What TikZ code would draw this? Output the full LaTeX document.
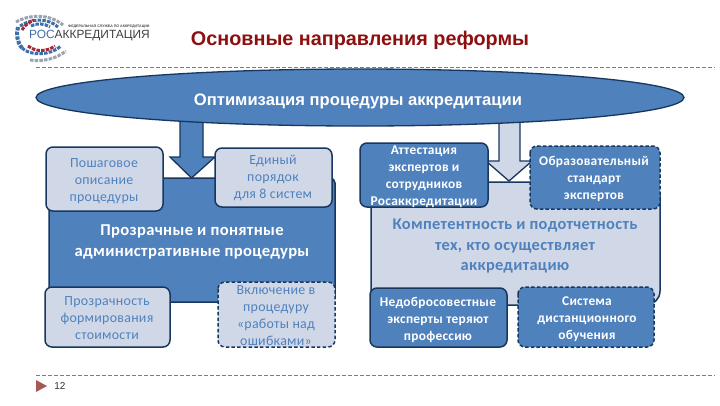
\documentclass[tikz,border=0pt]{standalone}
\usepackage{fontspec}
\usetikzlibrary{shapes.geometric}
\setmainfont{Liberation Sans}
\newfontfamily\carl[LetterSpace=2]{Carlito}
\definecolor{mainblue}{HTML}{4F81BD}
\definecolor{lightfill}{HTML}{D0D8E8}
\definecolor{edgeblue}{HTML}{17375E}
\definecolor{titlered}{HTML}{8E0F0F}
\definecolor{rulered}{HTML}{B5635F}
\definecolor{ringgray}{HTML}{9AA3B2}
\definecolor{ringblue}{HTML}{3F6FA8}
\definecolor{ringred}{HTML}{A8283A}
\tikzset{
  x=1pt,y=-1pt,
  box/.style={rounded corners=7pt,line width=1.5pt,draw=edgeblue},
  lightbox/.style={box,fill=lightfill},
  darkbox/.style={box,fill=mainblue},
  dashbox/.style={dash pattern=on 3.5pt off 2.2pt},
  lighttxt/.style={font=\carl\fontsize{13.9}{17}\selectfont,text=mainblue,align=center,anchor=center,inner sep=0pt},
  darktxt/.style={font=\carl\bfseries\fontsize{13.4}{17}\selectfont,text=white,align=center,anchor=center,inner sep=0pt},
  rulerline/.style={draw=rulered,line width=0.6pt,dash pattern=on 4pt off 2pt},
  blockarrow/.style={line width=1.3pt,draw=edgeblue,line join=miter},
  ring/.style={line width=4pt,dash pattern=on 3.5pt off 1.2pt},
}
\begin{document}
\begin{tikzpicture}
\useasboundingbox[fill=white] (0,0) rectangle (720,405);
% rules
\coordinate (r1a) at (36,67); \coordinate (r1b) at (715,67);
\coordinate (r2a) at (36,375); \coordinate (r2b) at (715,375);
\draw[rulerline] (r1a) -- (r1b);
\draw[rulerline] (r2a) -- (r2b);
\fill[rulered!90!black] (36,380) -- (47,386) -- (36,392) -- cycle;
\node[font=\fontsize{10}{12}\selectfont,text=black!80,inner sep=0pt] (page) at (60,386) {12};
% logo
\draw[ring,ringgray,line width=3pt] (16,22) .. controls (30,14) and (50,14) .. (63,25);
\draw[ring,ringblue,line width=3pt] (20,26) .. controls (32,18) and (48,18) .. (58,27);
\draw[ring,ringblue,line width=3pt] (31,26) .. controls (36,23) and (44,23) .. (50,27);
\draw[ring,ringred,line width=3pt] (22,30) .. controls (24,26) and (28,23) .. (34,20);
\draw[ring,ringblue,line width=4pt] (18,27) .. controls (16,34) and (17,42) .. (22,48);
\draw[ring,ringred,line width=3pt] (28,46) .. controls (36,52) and (46,52) .. (55,46);
\draw[ring,ringblue,line width=3pt] (22,48) .. controls (30,56) and (50,56) .. (61,46);
\draw[ring,ringgray,line width=3pt] (30,60) .. controls (42,62) and (56,59) .. (66,51);
\fill[white] (29,30) rectangle (68,41);
\node[anchor=west,inner sep=0pt,font=\fontsize{11.9}{14}\selectfont,text=black!75] (logotxt) at (29,36) {{\color{ringblue}РОС}АККРЕДИТАЦИЯ};
\node[anchor=west,inner sep=0pt,font=\bfseries\fontsize{3.6}{4}\selectfont,text=black!70] (logosub) at (68,27) {ФЕДЕРАЛЬНАЯ СЛУЖБА ПО АККРЕДИТАЦИИ};
% title
\node[font=\bfseries\fontsize{19.8}{24}\selectfont,text=titlered,inner sep=0pt] (title) at (360,40) {Основные направления реформы};
% panels
\draw[box,fill=mainblue,rounded corners=5pt] (49,178) rectangle (335,302);
\draw[box,fill=lightfill,rounded corners=14pt] (371,182) rectangle (660,305);
% block arrows
\draw[blockarrow,fill=mainblue] (180,120) -- (180,157) -- (170,157) -- (191.5,178) -- (215,157) -- (203,157) -- (203,120) -- cycle;
\draw[blockarrow,fill=lightfill] (499,120) -- (499,161) -- (486,161) -- (509,181) -- (532,161) -- (520,161) -- (520,120) -- cycle;
% main ellipse
\node[ellipse,draw=edgeblue,fill=mainblue,line width=1.3pt,inner sep=0pt,minimum width=648pt,minimum height=57pt] (oval) at (360,97.5) {};
\node[font=\bfseries\fontsize{16.6}{20}\selectfont,text=white,inner sep=0pt] (opt) at (358,101) {Оптимизация процедуры аккредитации};
% panel texts
\node[darktxt,font=\carl\bfseries\fontsize{16.6}{21}\selectfont] (ptleft) at (192,242) {Прозрачные и понятные\\административные процедуры};
\node[lighttxt,font=\carl\bfseries\fontsize{16.4}{20.5}\selectfont] (ptright) at (515,246) {Компетентность и подотчетность\\тех, кто осуществляет\\аккредитацию};
% left small boxes
\draw[lightbox] (46,147) rectangle (163,211);
\node[lighttxt] (l1) at (104,181) {Пошаговое\\описание\\процедуры};
\draw[lightbox] (215,148) rectangle (332,207);
\node[lighttxt] (l2) at (273,178) {Единый\\порядок\\для 8 систем};
\draw[lightbox] (45,287) rectangle (170,347);
\node[lighttxt] (l3) at (107,318) {Прозрачность\\формирования\\стоимости};
\draw[lightbox,dashbox] (218,282) rectangle (335,347);
\node[lighttxt] (l4) at (276,316) {Включение в\\процедуру\\«работы над\\ошибками»};
% right small boxes
\draw[darkbox] (360,143) rectangle (488,207);
\node[darktxt] (r1) at (424,177) {Аттестация\\экспертов и\\сотрудников\\Росаккредитации};
\draw[darkbox,dashbox] (530,146) rectangle (660,209);
\node[darktxt] (r2) at (594,179) {Образовательный\\стандарт\\экспертов};
\draw[darkbox] (370,288) rectangle (507,347);
\node[darktxt] (r3) at (438,320) {Недобросовестные\\эксперты теряют\\профессию};
\draw[darkbox,dashbox] (518,287) rectangle (654,347);
\node[darktxt] (r4) at (587,319) {Система\\дистанционного\\обучения};
\end{tikzpicture}
\end{document}
